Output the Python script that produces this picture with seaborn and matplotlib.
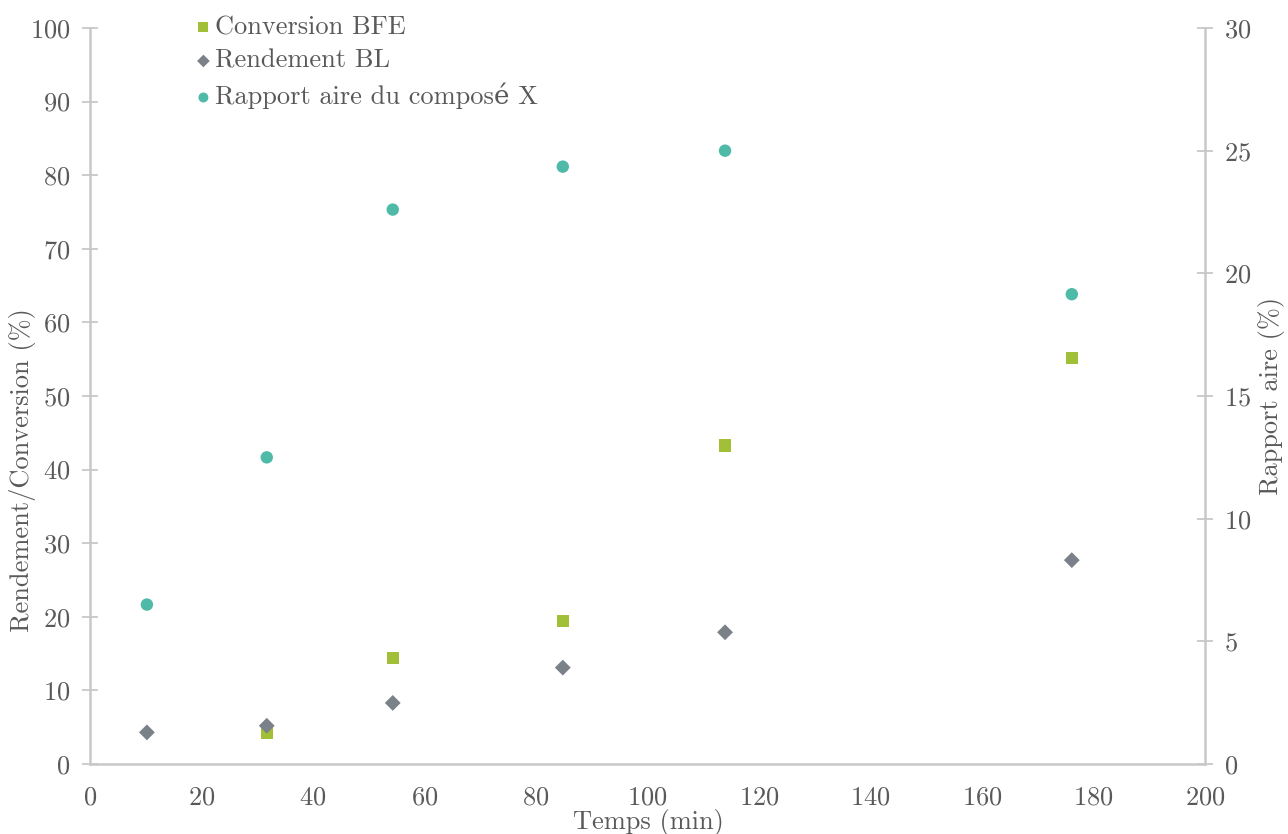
import matplotlib
matplotlib.use('Agg')
import matplotlib.pyplot as plt
import seaborn as sns
import pandas as pd

# data
temps = [10.2, 31.7, 54.3, 84.8, 113.9, 176.1]
temps_conv = [31.7, 54.3, 84.8, 113.9, 176.1]
conversion_bfe = [4.2, 14.4, 19.4, 43.3, 55.2]
rendement_bl = [4.3, 5.2, 8.3, 13.1, 17.9, 27.7]
rapport_aire = [6.5, 12.5, 22.6, 24.35, 25.0, 19.15]

x_ticks = [0, 20, 40, 60, 80, 100, 120, 140, 160, 180, 200]
left_ticks = [0, 10, 20, 30, 40, 50, 60, 70, 80, 90, 100]
right_ticks = [0, 5, 10, 15, 20, 25, 30]

sns.set_style('white')
plt.rcParams['font.family'] = ['cmr10', 'DejaVu Serif']
plt.rcParams['axes.formatter.use_mathtext'] = True
plt.rcParams['mathtext.fontset'] = 'cm'

text_col = '#595959'
axis_col = '#c8c8c8'
c_green = '#a2c037'
c_gray = '#7b8189'
c_teal = '#4fbaa8'
fs = 19

df_conv = pd.DataFrame({'t': temps_conv, 'v': conversion_bfe})
df_rend = pd.DataFrame({'t': temps, 'v': rendement_bl})
df_aire = pd.DataFrame({'t': temps, 'v': rapport_aire})

fig = plt.figure(figsize=(12.88, 8.34), dpi=100)
ax = fig.add_axes([0.0699, 0.0839, 0.8657, 0.8825])
ax2 = ax.twinx()

sns.scatterplot(data=df_conv, x='t', y='v', ax=ax, marker='s', s=80, color=c_green,
                edgecolor='none', label='Conversion BFE', legend=False)
sns.scatterplot(data=df_rend, x='t', y='v', ax=ax, marker='D', s=65, color=c_gray,
                edgecolor='none', label='Rendement BL', legend=False)
sns.scatterplot(data=df_aire, x='t', y='v', ax=ax2, marker='o', s=80, color=c_teal,
                edgecolor='none', label='Rapport aire du composé X', legend=False)

ax.set_xlim(0, 200)
ax.set_ylim(0, 100)
ax2.set_ylim(0, 30)
ax.set_xticks(x_ticks)
ax.set_yticks(left_ticks)
ax2.set_yticks(right_ticks)

for a in (ax, ax2):
    for side in ('top', 'left', 'right', 'bottom'):
        a.spines[side].set_visible(False)
    a.tick_params(colors=text_col, labelsize=fs, direction='inout', length=12, width=1.3)
    a.tick_params(axis='both', color=axis_col)
ax.spines['left'].set_visible(True)
ax.spines['bottom'].set_visible(True)
ax2.spines['right'].set_visible(True)
for a, side in ((ax, 'left'), (ax, 'bottom'), (ax2, 'right')):
    a.spines[side].set_color(axis_col)
    a.spines[side].set_linewidth(1.8)
ax.tick_params(axis='x', pad=10)
ax.tick_params(axis='y', pad=8)
ax2.tick_params(axis='y', pad=8)

ax.set_xlabel('Temps (min)', fontsize=fs, color=text_col)
ax.set_ylabel('Rendement/Conversion (%)', fontsize=fs, color=text_col)
ax2.set_ylabel('Rapport aire (%)', fontsize=fs, color=text_col)
ax.xaxis.set_label_coords(0.501, -0.079)
ax.yaxis.set_label_coords(-0.061, 0.40)
ax2.yaxis.set_label_coords(1.060, 0.50)
ax.xaxis.label.set_va('center')
ax.yaxis.label.set_va('center')
ax2.yaxis.label.set_va('center')

h1, l1 = ax.get_legend_handles_labels()
h2, l2 = ax2.get_legend_handles_labels()
leg = fig.legend(h1 + h2, l1 + l2, loc='upper left', bbox_to_anchor=(0.119, 1.010),
                 frameon=False, fontsize=fs, handletextpad=-0.55, labelspacing=0.38,
                 markerscale=0.8, labelcolor=text_col)

fig.savefig('out.png', dpi=100)
